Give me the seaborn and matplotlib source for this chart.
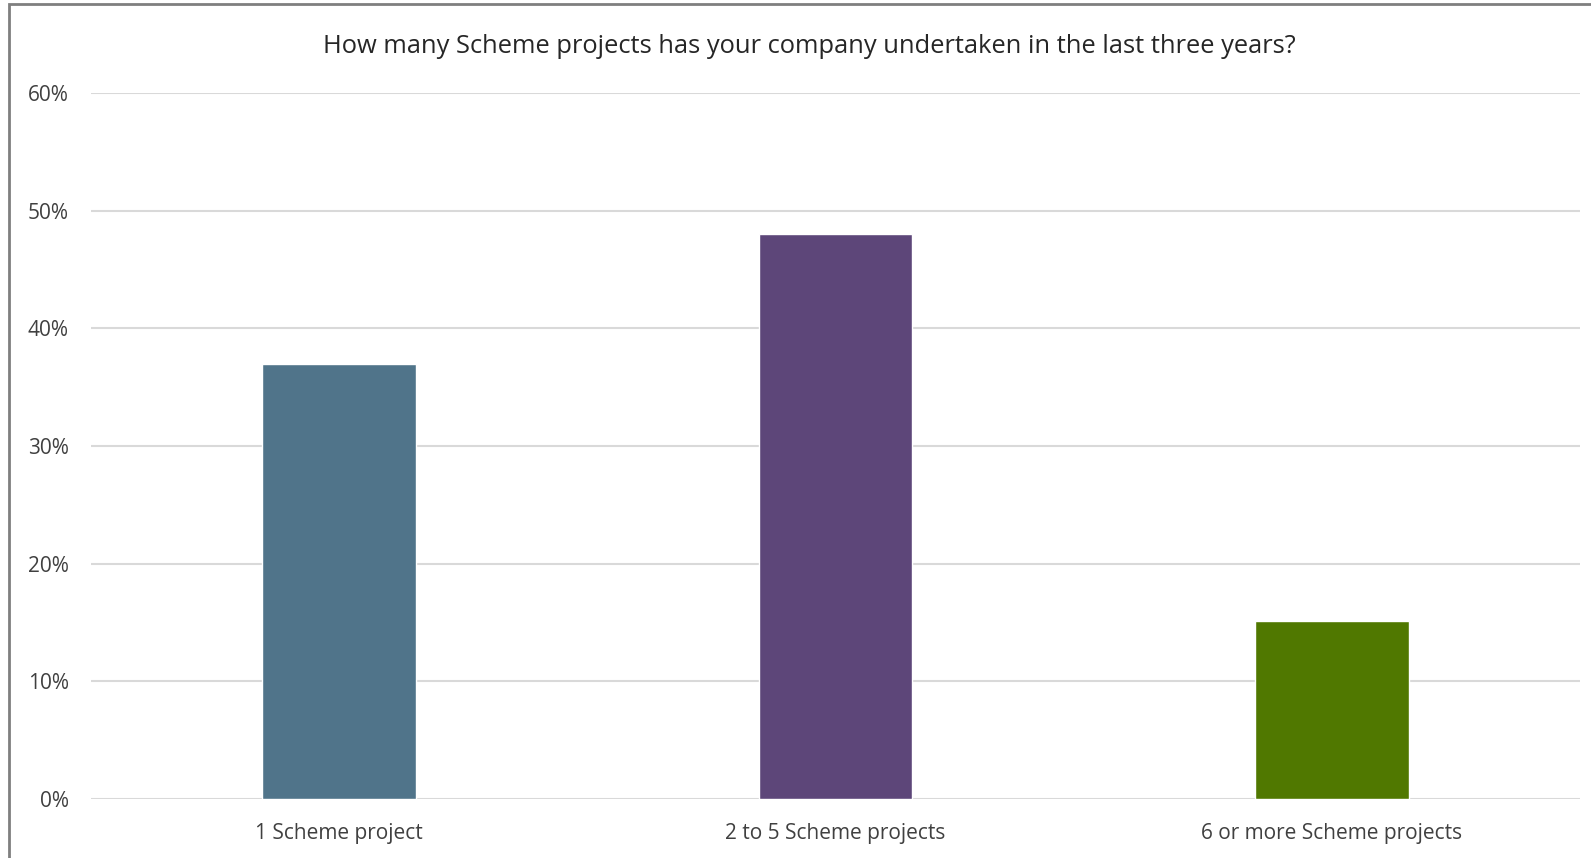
import matplotlib.pyplot as plt
import seaborn as sns
import pandas as pd
from matplotlib.patches import Rectangle
from matplotlib.ticker import PercentFormatter

categories = ["1 Scheme project", "2 to 5 Scheme projects", "6 or more Scheme projects"]
shares = [0.37, 0.48, 0.151]
colors = ["#50748A", "#5D4679", "#507800"]
title = "How many Scheme projects has your company undertaken in the last three years?"

df = pd.DataFrame({"category": categories, "share": shares})

sns.set_style("white")
plt.rcParams["font.family"] = ["Open Sans", "DejaVu Sans"]

fig = plt.figure(figsize=(15.91, 8.58), dpi=100)
ax = fig.add_axes([0.0572, 0.0688, 0.9358, 0.8228])

sns.barplot(data=df, x="category", y="share", hue="category", palette=colors,
            width=0.31, saturation=1, legend=False, ax=ax, zorder=3)

ax.set_ylim(0, 0.6)
ax.set_xlim(-0.5, 2.5)
ax.set_yticks([0, 0.1, 0.2, 0.3, 0.4, 0.5, 0.6])
ax.yaxis.set_major_formatter(PercentFormatter(1.0, decimals=0))
ax.grid(axis="y", color="#d9d9d9", linewidth=1.5, zorder=0)
ax.set_xlabel("")
ax.set_ylabel("")
for s in ax.spines.values():
    s.set_visible(False)
ax.tick_params(axis="both", length=0, labelsize=15, colors="#404040")
ax.tick_params(axis="y", pad=16)
ax.tick_params(axis="x", pad=17)

fig.text(0.5085, 0.946, title, ha="center", va="center", fontsize=18.4, color="#262626")

# outer chart frame (cropped at the right and bottom)
fig.patches.append(Rectangle((9 / 1591, -0.1), 1.2, 1.1 - 4 / 858,
                             transform=fig.transFigure, fill=False,
                             edgecolor="#7f7f7f", linewidth=2))

plt.savefig("out.png", dpi=100)
plt.close()
